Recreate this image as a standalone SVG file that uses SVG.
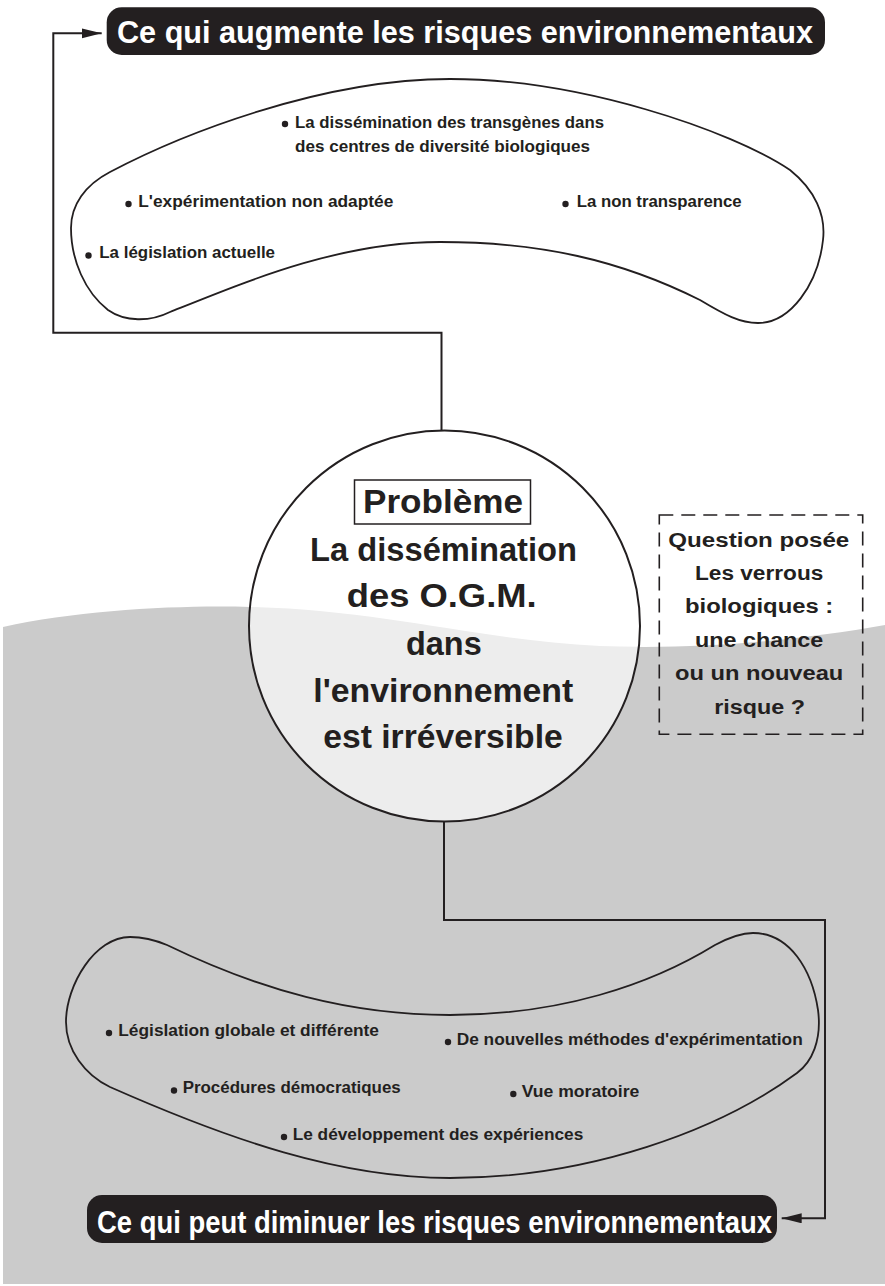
<svg xmlns="http://www.w3.org/2000/svg" width="885" height="1286" viewBox="0 0 885 1286">
<style>
.t{font-family:"Liberation Sans",Arial,sans-serif;font-weight:bold;fill:#231f20}
.s{font-size:16px}
.big{font-size:34px}
.q{font-size:20px}
.title{font-family:"Liberation Sans",Arial,sans-serif;font-weight:bold;font-size:31px;fill:#ffffff}
.pill{fill:#231f20}
.blob{stroke:#231f20;stroke-width:1.8;stroke-linejoin:round}
.conn{fill:none;stroke:#231f20;stroke-width:2}
.dot{fill:#231f20}
</style>
<defs>
<marker id="ah" markerUnits="userSpaceOnUse" markerWidth="22" markerHeight="12" refX="20" refY="5" orient="auto">
<path d="M0,0 L20,5 L0,10 Z" fill="#231f20"/>
</marker>
<clipPath id="cc"><circle cx="444.5" cy="626" r="195.5"/></clipPath>
</defs>
<rect width="885" height="1286" fill="#ffffff"/>
<path d="M3,627 C80,610 180,605 250,607 C380,610 480,640 600,646 C700,650 800,640 885,625 L885,1284 L3,1284 Z" fill="#cbcbcb"/>

<g id="connectors">
<path class="conn" d="M441.5,431 L441.5,332.7 L53.3,332.7 L53.3,33.3 L101.7,33.3" marker-end="url(#ah)"/>
<path class="conn" d="M444,822 L444,920 L825,920 L825,1218.3 L781.7,1218.3" marker-end="url(#ah)"/>
</g>

<g id="title-top">
<rect class="pill" x="106.7" y="7.3" width="718.3" height="47.7" rx="15"/>
<text class="title" x="117" y="43.3" textLength="696" lengthAdjust="spacingAndGlyphs">Ce qui augmente les risques environnementaux</text>
</g>

<g id="blob-top">
<path class="blob" fill="#ffffff" d="M110,172 C180,135 320,79 450,79 C580,79 730,130 790,170 C815,190 826,215 823,240 C818,285 790,323 758,323 C740,323 725,315 700,300 C620,260 540,242 440,242 C340,242 250,280 170,312 C150,322 125,322 108,310 C85,292 71,260 71,228 C71,205 85,185 110,172 Z"/>
<circle class="dot" cx="285" cy="124" r="3.2"/>
<text class="t s" x="295" y="128.3" textLength="309" lengthAdjust="spacingAndGlyphs">La dissémination des transgènes dans</text>
<text class="t s" x="295" y="151.7" textLength="295" lengthAdjust="spacingAndGlyphs">des centres de diversité biologiques</text>
<circle class="dot" cx="128.5" cy="204" r="3.2"/>
<text class="t s" x="138.3" y="207.3" textLength="255" lengthAdjust="spacingAndGlyphs">L'expérimentation non adaptée</text>
<circle class="dot" cx="565.5" cy="204" r="3.2"/>
<text class="t s" x="576.7" y="207.3" textLength="165" lengthAdjust="spacingAndGlyphs">La non transparence</text>
<circle class="dot" cx="88.5" cy="255.5" r="3.2"/>
<text class="t s" x="99.3" y="258.3" textLength="175.7" lengthAdjust="spacingAndGlyphs">La législation actuelle</text>
</g>

<g id="probleme">
<circle cx="444.5" cy="626" r="195.5" fill="#ffffff"/>
<path clip-path="url(#cc)" d="M3,627 C80,610 180,605 250,607 C380,610 480,640 600,646 C700,650 800,640 885,625 L885,1284 L3,1284 Z" fill="#ededed"/>
<circle cx="444.5" cy="626" r="195.5" fill="none" stroke="#231f20" stroke-width="2"/>
<rect x="354.5" y="480" width="176" height="44" fill="#ffffff" stroke="#231f20" stroke-width="1.5"/>
<text class="t" style="font-size:33px" x="363" y="513.3" textLength="160" lengthAdjust="spacingAndGlyphs">Problème</text>
<text class="t big" x="310" y="561" textLength="267" lengthAdjust="spacingAndGlyphs">La dissémination</text>
<text class="t big" x="346.7" y="607" textLength="190" lengthAdjust="spacingAndGlyphs">des O.G.M.</text>
<text class="t big" x="406" y="654.5" textLength="75.7" lengthAdjust="spacingAndGlyphs">dans</text>
<text class="t big" x="313.3" y="701.5" textLength="260" lengthAdjust="spacingAndGlyphs">l'environnement</text>
<text class="t big" x="323.3" y="748.3" textLength="239.4" lengthAdjust="spacingAndGlyphs">est irréversible</text>
</g>

<g id="question">
<rect x="659.3" y="515" width="203.4" height="219.3" fill="none" stroke="#231f20" stroke-width="1.6" stroke-dasharray="14 8"/>
<text class="t q" x="668.3" y="546.7" textLength="181" lengthAdjust="spacingAndGlyphs">Question posée</text>
<text class="t q" x="695" y="580" textLength="128.3" lengthAdjust="spacingAndGlyphs">Les verrous</text>
<text class="t q" x="685" y="613.4" textLength="148.3" lengthAdjust="spacingAndGlyphs">biologiques :</text>
<text class="t q" x="695" y="646.8" textLength="128.3" lengthAdjust="spacingAndGlyphs">une chance</text>
<text class="t q" x="675" y="680.2" textLength="168.3" lengthAdjust="spacingAndGlyphs">ou un nouveau</text>
<text class="t q" x="714.3" y="713.6" textLength="90.7" lengthAdjust="spacingAndGlyphs">risque ?</text>
</g>

<g id="blob-bottom">
<path class="blob" fill="none" d="M130,937 C145,937 155,940 167,945 C260,990 350,1015 450,1015 C560,1015 650,985 715,945 C730,937 742,933 753,933 C790,933 812,970 818,1010 C822,1040 812,1062 797,1073 C720,1130 590,1178 450,1178 C340,1178 230,1140 110,1087 C85,1075 66,1050 66,1022 C66,985 95,937 130,937 Z"/>
<circle class="dot" cx="109" cy="1033" r="3.2"/>
<text class="t s" x="118.3" y="1036" textLength="260.7" lengthAdjust="spacingAndGlyphs">Législation globale et différente</text>
<circle class="dot" cx="448" cy="1042" r="3.2"/>
<text class="t s" x="456.7" y="1045" textLength="346" lengthAdjust="spacingAndGlyphs">De nouvelles méthodes d'expérimentation</text>
<circle class="dot" cx="174" cy="1090.5" r="3.2"/>
<text class="t s" x="182.7" y="1093.3" textLength="218" lengthAdjust="spacingAndGlyphs">Procédures démocratiques</text>
<circle class="dot" cx="513.3" cy="1094" r="3.2"/>
<text class="t s" x="521.7" y="1096.7" textLength="117.6" lengthAdjust="spacingAndGlyphs">Vue moratoire</text>
<circle class="dot" cx="284" cy="1137" r="3.2"/>
<text class="t s" x="292.7" y="1140" textLength="290.6" lengthAdjust="spacingAndGlyphs">Le développement des expériences</text>
</g>

<g id="title-bottom">
<rect class="pill" x="87" y="1195" width="690" height="48" rx="15"/>
<text class="title" x="97" y="1233.3" textLength="675" lengthAdjust="spacingAndGlyphs">Ce qui peut diminuer les risques environnementaux</text>
</g>
</svg>
